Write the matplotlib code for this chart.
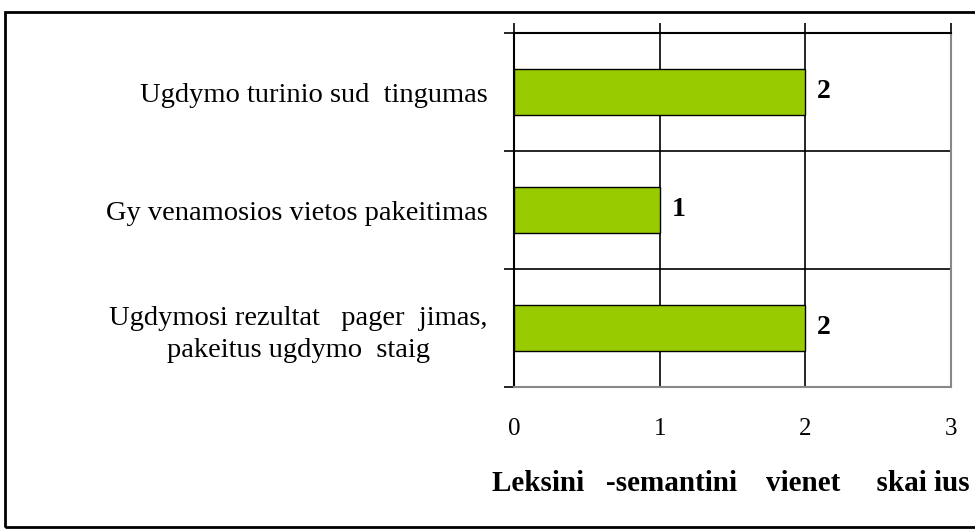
import matplotlib.pyplot as plt
from matplotlib.patches import Rectangle

categories = ['Ugdymo turinio sud  tingumas',
              'Gy venamosios vietos pakeitimas',
              'Ugdymosi rezultat   pager  jimas,\npakeitus ugdymo  staig']
values = [2, 1, 2]
x_ticks = [0, 1, 2, 3]
x_label = 'Leksini   -semantini    vienet     skai ius'

plt.rcParams['font.family'] = ['Liberation Serif', 'DejaVu Serif']

fig = plt.figure(figsize=(9.75, 5.29), dpi=100)
ax = fig.add_axes([514/975, 1-387/529, (951-514)/975, (387-33)/529])

# outer frame (runs off the right edge like the original)
fig.patches.append(Rectangle((5/975, 2/529), 1.2, 515/529, transform=fig.transFigure,
                             fill=False, edgecolor='black', linewidth=2, zorder=0))

pos = list(range(len(categories)))
ax.barh(pos, values, height=0.39, color='#99cc00', edgecolor='black', linewidth=1, zorder=3)
for p, v in zip(pos, values):
    ax.text(v + 0.08, p, str(v), va='center', ha='left', fontsize=20, fontweight='bold')

ax.set_xlim(0, 3)
ax.set_ylim(len(categories) - 0.5, -0.5)

# x: ticks on top, labels below
ax.set_xticks(x_ticks)
ax.tick_params(axis='x', which='major', top=True, bottom=False, labeltop=False,
               labelbottom=True, direction='out', length=7, width=1.2, pad=15, labelsize=18)
ax.grid(axis='x', color='black', linewidth=1.2, zorder=1)

# y: boundary ticks, category labels as minor ticks
ax.set_yticks([i - 0.5 for i in range(len(categories) + 1)])
ax.set_yticklabels([])
ax.set_yticks(pos, minor=True)
ax.set_yticklabels(categories, minor=True, fontsize=20.5, ha='right',
                   multialignment='center', linespacing=1.35)
ax.tick_params(axis='y', which='major', direction='out', length=7, width=1.2)
ax.tick_params(axis='y', which='minor', length=0, pad=19)
ax.grid(axis='y', which='major', color='black', linewidth=1.2, zorder=1)

for side in ['left', 'top']:
    ax.spines[side].set_linewidth(1.5)
    ax.spines[side].set_color('black')
for side in ['right', 'bottom']:
    ax.spines[side].set_linewidth(1.5)
    ax.spines[side].set_color('#888888')

fig.text(492/975, 1-491/529, x_label, fontsize=21, fontweight='bold', ha='left', va='baseline')

fig.savefig('out.png', dpi=100)
